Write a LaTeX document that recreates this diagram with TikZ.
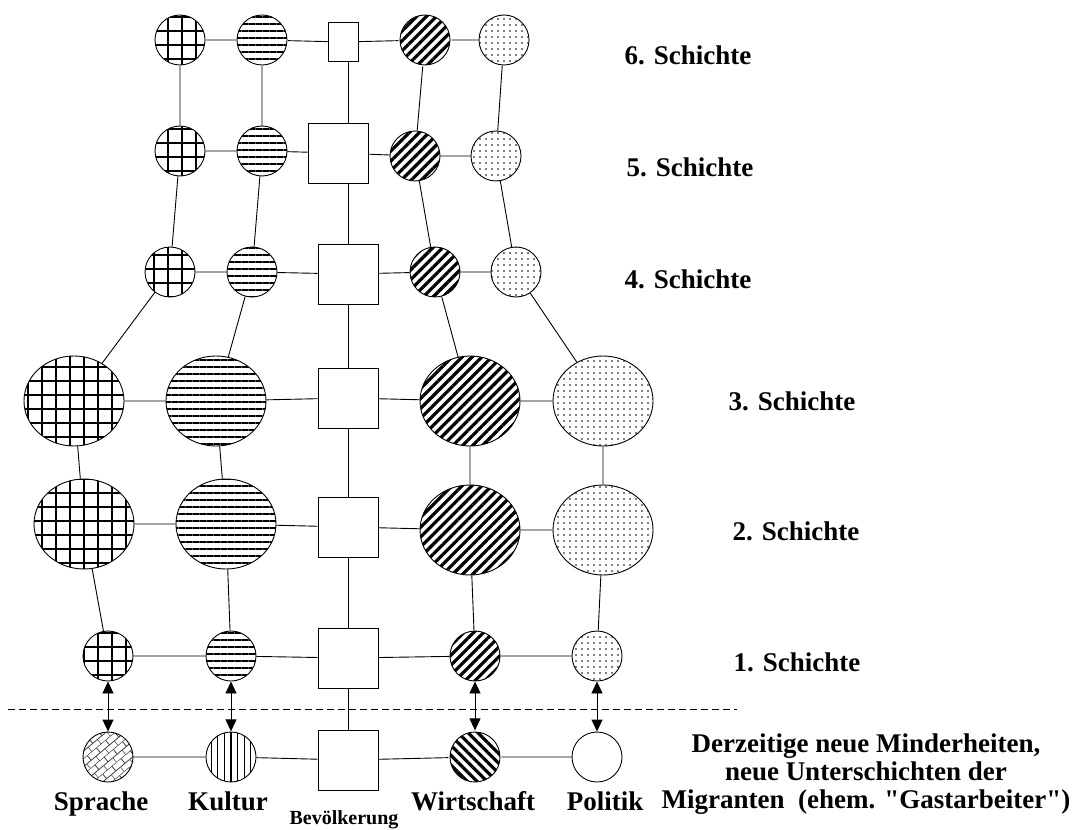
\documentclass[tikz,border=0pt]{standalone}
\usepackage{fontspec}
\setmainfont{Liberation Serif}
\usepackage{tikz}
\usetikzlibrary{arrows.meta,calc,shapes.geometric}
\usetikzlibrary{positioning,patterns.meta}

% bricks turned on the diagonal (bottom Sprache circle)
\pgfdeclarepattern{
  name=diagbricks,
  type=uncolored,
  bottom left={\pgfpoint{-.1pt}{-.1pt}},
  top right={\pgfpoint{12.1pt}{12.1pt}},
  tile size={\pgfpoint{12pt}{12pt}},
  tile transformation={\pgftransformrotate{40}},
  code={
    \pgfsetlinewidth{0.8pt}
    \pgfpathmoveto{\pgfpoint{0pt}{0pt}}\pgfpathlineto{\pgfpoint{12pt}{0pt}}
    \pgfpathmoveto{\pgfpoint{0pt}{6pt}}\pgfpathlineto{\pgfpoint{12pt}{6pt}}
    \pgfpathmoveto{\pgfpoint{0pt}{0pt}}\pgfpathlineto{\pgfpoint{0pt}{6pt}}
    \pgfpathmoveto{\pgfpoint{6pt}{6pt}}\pgfpathlineto{\pgfpoint{6pt}{12pt}}
    \pgfusepathqstroke
  }
}

\begin{document}
\begin{tikzpicture}[
  x=1pt, y=-1pt,
  small/.style={circle, draw, line width=0.9pt, minimum size=50pt, inner sep=0pt},
  big/.style={ellipse, draw, line width=0.9pt, minimum width=100pt, minimum height=90pt, inner sep=0pt},
  box/.style={draw, line width=0.9pt, minimum width=60pt, minimum height=60pt, inner sep=0pt},
  spr/.style={pattern={Hatch[distance=14pt, line width=1.8pt]}},
  kul/.style={pattern={Lines[distance=7pt, line width=1.7pt]}},
  wir/.style={pattern={Lines[angle=45, distance=7pt, line width=3.2pt]}},
  pol/.style={pattern={Dots[distance=6pt, radius=0.9pt]}, pattern color=black},
  link/.style={line width=0.9pt},
  lbl/.style={font=\bfseries\fontsize{27}{30}\selectfont, anchor=base},
  ]
  \useasboundingbox (0,0) rectangle (1075,829);

  % 6. Schichte
  \node[small, spr] (spr6) at (180,40) {};
  \node[small, kul] (kul6) at (262,40) {};
  \node[box, minimum width=30pt, minimum height=39pt] (bev6) at (343,42) {};
  \node[small, wir] (wir6) at (425,40) {};
  \node[small, pol] (pol6) at (504,40) {};

  % 5. Schichte
  \node[small, spr] (spr5) at (180,151) {};
  \node[small, kul] (kul5) at (262,151) {};
  \node[box] (bev5) at (338,153) {};
  \node[small, wir] (wir5) at (415,156) {};
  \node[small, pol] (pol5) at (496,156) {};

  % 4. Schichte
  \node[small, spr] (spr4) at (170,272) {};
  \node[small, kul] (kul4) at (252,272) {};
  \node[box] (bev4) at (348,274) {};
  \node[small, wir] (wir4) at (435,272) {};
  \node[small, pol] (pol4) at (516,272) {};

  % 3. Schichte
  \node[big, spr] (spr3) at (74,401) {};
  \node[big, kul] (kul3) at (216,401) {};
  \node[box] (bev3) at (348,398) {};
  \node[big, wir] (wir3) at (470,401) {};
  \node[big, pol] (pol3) at (603,401) {};

  % 2. Schichte
  \node[big, spr] (spr2) at (84,524) {};
  \node[big, kul] (kul2) at (226,524) {};
  \node[box] (bev2) at (348,527) {};
  \node[big, wir] (wir2) at (470,530) {};
  \node[big, pol] (pol2) at (603,530) {};

  % 1. Schichte
  \node[small, spr] (spr1) at (108,656) {};
  \node[small, kul] (kul1) at (231,656) {};
  \node[box] (bev1) at (348,658) {};
  \node[small, wir] (wir1) at (475,656) {};
  \node[small, pol] (pol1) at (597,656) {};

  % new minorities
  \node[small, pattern=diagbricks, pattern color=black!75] (spr0) at (108,757) {};
  \node[small, pattern={Lines[angle=90, distance=6.6pt, line width=1.3pt]}] (kul0) at (231,757) {};
  \node[box] (bev0) at (348,760) {};
  \node[small, pattern={Lines[angle=-45, distance=7pt, line width=3.2pt]}] (wir0) at (475,757) {};
  \node[small] (pol0) at (597,757) {};

  % Rows
  \draw[link] (spr6) -- (kul6) -- (bev6) -- (wir6) -- (pol6);
  \draw[link] (spr5) -- (kul5) -- (bev5) -- (wir5) -- (pol5);
  \draw[link] (spr4) -- (kul4) -- (bev4) -- (wir4) -- (pol4);
  \draw[link] (spr3) -- (kul3) -- (bev3) -- (wir3) -- (pol3);
  \draw[link] (spr2) -- (kul2) -- (bev2) -- (wir2) -- (pol2);
  \draw[link] (spr1) -- (kul1) -- (bev1) -- (wir1) -- (pol1);
  \draw[link] (spr0) -- (kul0) -- (bev0) -- (wir0) -- (pol0);

  % Columns
  \draw[link] (spr6) -- (spr5) -- (spr4) -- (spr3) -- (spr2) -- (spr1);
  \draw[link] (kul6) -- (kul5) -- (kul4) -- (kul3) -- (kul2) -- (kul1);
  \draw[link] (wir6) -- (wir5) -- (wir4) -- (wir3) -- (wir2) -- (wir1);
  \draw[link] (pol6) -- (pol5) -- (pol4) -- (pol3) -- (pol2) -- (pol1);
  \draw[link] (bev6.south -| bev4) -- (bev5.north -| bev4);
  \draw[link] (bev5.south -| bev4) -- (bev4) -- (bev3) -- (bev2) -- (bev1) -- (bev0);

  % Exchange across the border line
  \foreach \c in {spr,kul,wir,pol}
    \draw[link, {Triangle[width=11pt,length=12pt]}-{Triangle[width=11pt,length=12pt]}] (\c1) -- (\c0);
  \coordinate (dashL) at (8,709);
  \coordinate (dashR) at (737,709);
  \draw[line width=0.8pt, dash pattern=on 7pt off 4pt] (dashL) -- (dashR);

  % Labels
  \node[lbl] (l6) at (688,65) {6. Schichte};
  \node[lbl] (l5) at (690,176) {5. Schichte};
  \node[lbl] (l4) at (688,288) {4. Schichte};
  \node[lbl] (l3) at (792,410) {3. Schichte};
  \node[lbl] (l2) at (796,540) {2. Schichte};
  \node[lbl] (l1) at (797,671) {1. Schichte};

  \node[lbl] (tspr) at (101,810) {Sprache};
  \node[lbl] (tkul) at (228,810) {Kultur};
  \node[lbl, font=\bfseries\fontsize{20}{22}\selectfont] (tbev) at (344,824) {Bevölkerung};
  \node[lbl] (twir) at (473,810) {Wirtschaft};
  \node[lbl] (tpol) at (605,810) {Politik};
  \node[font=\bfseries\fontsize{27}{28}\selectfont, align=center, inner sep=0pt] (tmig) at (866,774)
    {Derzeitige neue Minderheiten,\\ neue Unterschichten der\\ Migranten\ \ (ehem. \textquotedbl Gastarbeiter\textquotedbl)};
\end{tikzpicture}
\end{document}
